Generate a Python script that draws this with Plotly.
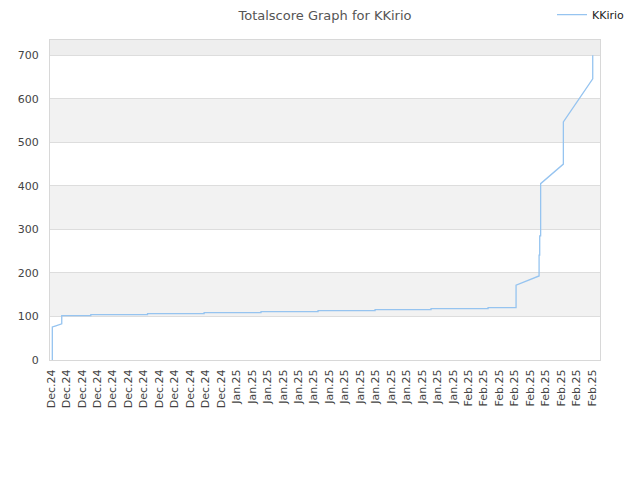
import plotly.graph_objects as go

# tick labels along the x axis (one per date step)
tick_labels = ["Dec.24"] * 12 + ["Jan.25"] * 15 + ["Feb.25"] * 9

# score curve, x in tick-index units
x_vals = [0.08, 0.08, 0.26, 0.47, 0.69, 0.69, 2.57, 2.57, 6.24, 6.24,
          9.9, 9.9, 13.58, 13.58, 17.27, 17.27, 20.96, 20.96, 24.58, 24.58,
          28.27, 28.27, 30.08, 30.08, 31.57, 31.57, 31.61, 31.61, 31.67, 31.67,
          33.14, 33.14, 35.04, 35.04]
scores = [0, 76, 78, 81, 83, 101.7, 101.7, 104, 104, 106.3,
          106.3, 108.6, 108.6, 111, 111, 113.3, 113.3, 115.6, 115.6, 117.9,
          117.9, 120.2, 120.2, 172, 193, 241, 241, 285, 285, 405,
          450, 547, 646, 700]

band_edges = [0, 100, 200, 300, 400, 500, 600, 700, 735]

fig = go.Figure()

fig.add_trace(go.Scatter(
    x=x_vals,
    y=scores,
    mode="lines",
    name="KKirio",
    line=dict(color="#96c4f0", width=1.3),
))

# alternating background bands
for i in range(len(band_edges) - 1):
    if i % 2 == 0:
        continue
    fill = "#eeeeee" if band_edges[i] >= 700 else "#f2f2f2"
    fig.add_shape(type="rect", xref="paper", yref="y",
                  x0=0, x1=1, y0=band_edges[i], y1=band_edges[i + 1],
                  fillcolor=fill, line_width=0, layer="below")

# page body adds an 8px offset, so margins are shifted to compensate
fig.update_layout(
    width=640, height=480,
    margin=dict(l=42, r=48, t=32, b=128, autoexpand=False),
    paper_bgcolor="white",
    plot_bgcolor="white",
    font=dict(family="DejaVu Sans", size=11, color="#444"),
    title=dict(text="Totalscore Graph for KKirio", x=0.5, xanchor="center",
               xref="paper", y=0.985, yanchor="middle",
               font=dict(size=13, color="#555")),
    showlegend=True,
    legend=dict(orientation="h", xref="container", yref="container",
                x=0.85, xanchor="left", y=0.986, yanchor="middle",
                font=dict(size=11, color="#222"), bgcolor="rgba(0,0,0,0)"),
)

fig.update_xaxes(
    range=[-0.07, 35.51],
    tickmode="array",
    tickvals=list(range(len(tick_labels))),
    ticktext=tick_labels,
    tickangle=-90,
    showgrid=False,
    zeroline=False,
    showline=True, linecolor="#d8d8d8", mirror=True,
    ticks="",
    ticklabelstandoff=4,
    automargin=False,
)
fig.update_yaxes(
    range=[0, 735],
    tickvals=[0, 100, 200, 300, 400, 500, 600, 700],
    showgrid=True, gridcolor="#dddddd",
    zeroline=False,
    showline=True, linecolor="#d8d8d8", mirror=True,
    ticks="",
    ticklabelstandoff=8,
    automargin=False,
)

fig.write_html("out.html")
